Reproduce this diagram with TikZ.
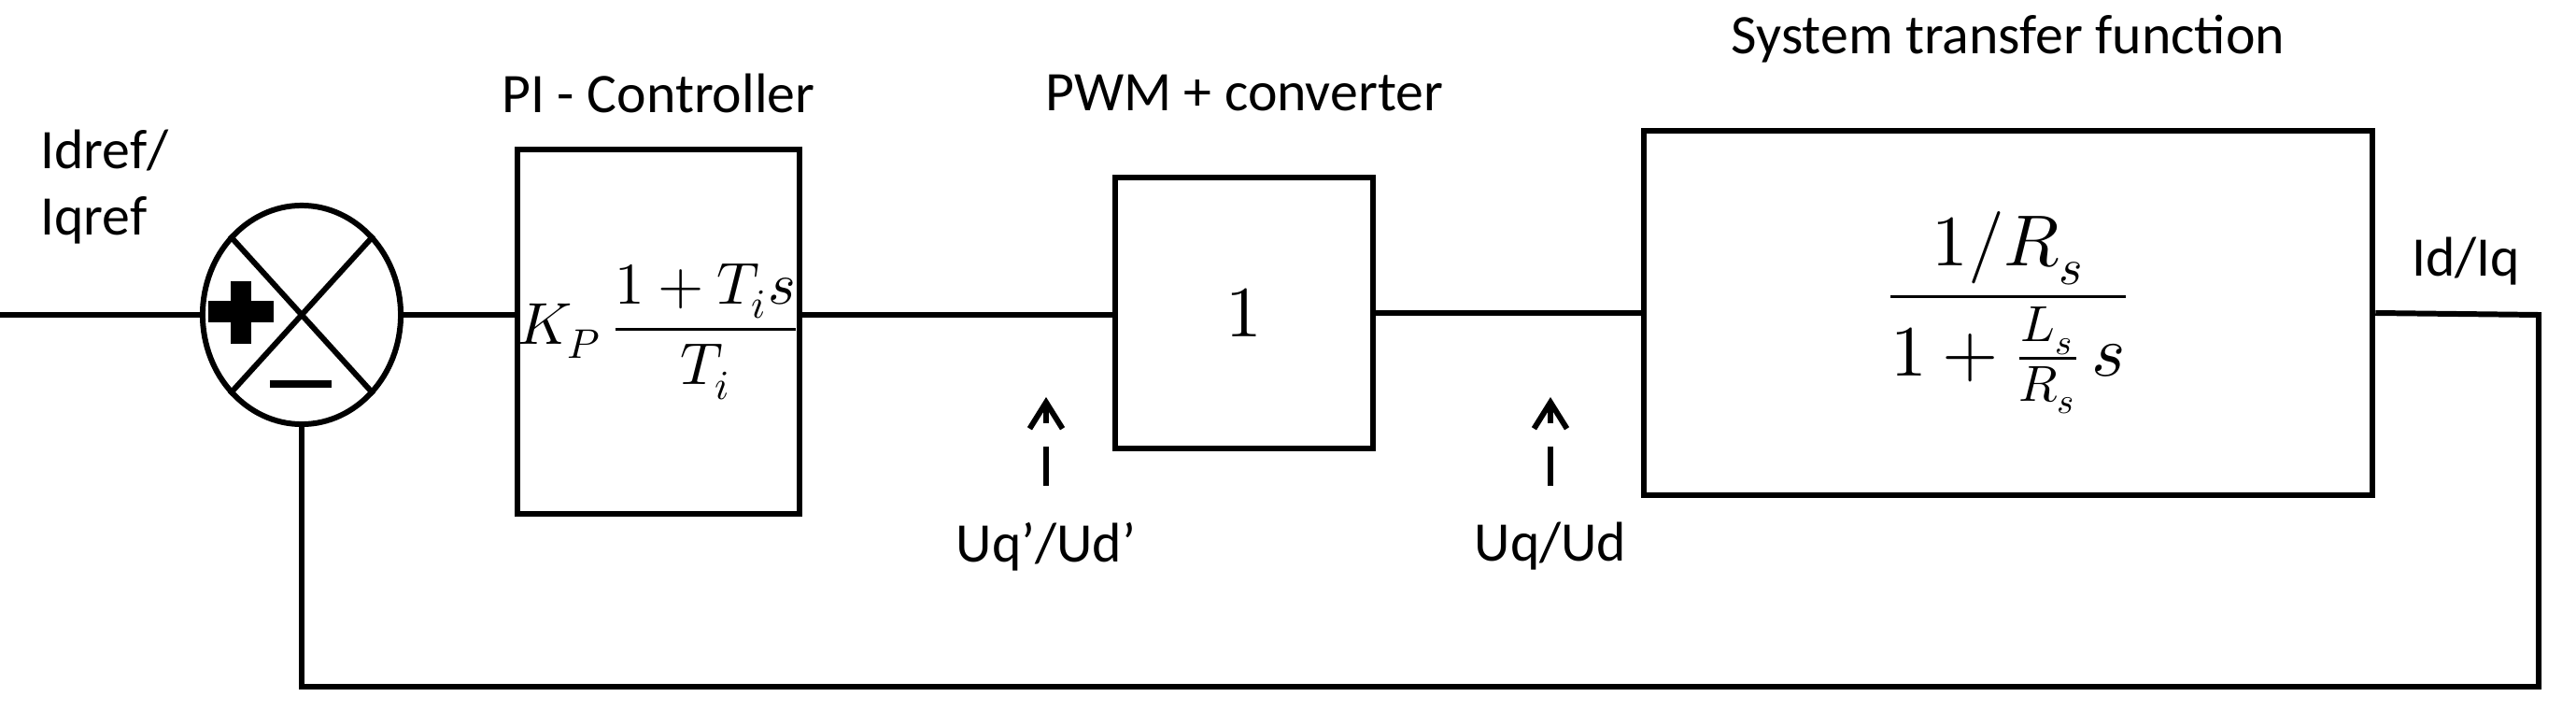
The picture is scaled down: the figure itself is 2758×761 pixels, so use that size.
\documentclass[tikz,border=0pt]{standalone}
\usepackage{fontspec}
\setmainfont{Carlito}
\usepackage{unicode-math}
\setmathfont{Latin Modern Math}
\usetikzlibrary{shapes.geometric,arrows.meta}
\begin{document}
\begin{tikzpicture}[x=0.01cm,y=-0.01cm,line width=1.7pt]
\tikzset{
	block/.style = {
		draw, rectangle, inner sep=0pt,
		font=\fontsize{22}{26}\selectfont
	},
	lbl/.style = {
		font=\fontsize{17}{20}\selectfont, inner sep=0pt
	},
	meas/.style = {
		dash pattern=on 12pt off 7pt, -{Straight Barb[length=8pt,width=10pt]}
	},
}
\useasboundingbox (0,0) rectangle (2758,761);

% summing junction
\node [draw, ellipse, minimum width=2.12cm, minimum height=2.34cm, inner sep=0pt] (sum) at (323,337) {};
\draw (sum.center) -- (sum.north west) (sum.center) -- (sum.north east)
      (sum.center) -- (sum.south west) (sum.center) -- (sum.south east);
\fill (223,322) rectangle (293,345);
\fill (247,301) rectangle (269,368);
\fill (289,407) rectangle (355,415);

% blocks
\node [block, minimum width=2.9cm, minimum height=3.9cm, font=\fontsize{18}{22}\selectfont] (pi) at (705,355) {$K_P\,\dfrac{1+T_i s}{T_i}$};
\node [block, minimum width=2.75cm, minimum height=2.9cm] (pwm) at (1332,335) {$1$};
\node [block, minimum width=7.8cm, minimum height=3.9cm] (sys) at (2150,335)
  {$\dfrac{1/R_s}{1+\frac{L_s}{R_s}\,s}$};

% labels
\node [lbl] (tpi)  at (705,100) {PI - Controller};
\node [lbl] (tpwm) at (1332,100) {PWM + converter};
\node [lbl] (tsys) at (2150,42) {System transfer function};
\node [lbl, align=left] (tin) at (112,200) {Idref/\\Iqref};
\node [lbl] (tout) at (2640,280) {Id/Iq};
\node [lbl] (tu1) at (1120,585) {Uq’/Ud’};
\node [lbl] (tu2) at (1660,585) {Uq/Ud};

\coordinate (in) at (0,337);
\coordinate (out) at (2718,337);
\coordinate (fb) at (2718,735);
\coordinate (m1) at (1120,520);
\coordinate (m2) at (1660,520);
\coordinate (m1t) at (1120,425);
\coordinate (m2t) at (1660,425);

% connections
\draw (in) -- (sum.west);
\draw (sum.east) -- (pi.west |- sum.east);
\draw (pi.east |- sum.east) -- (pwm.west |- sum.east);
\draw (pwm.east) -- (sys.west);
\draw (sys.east) -- (out) -- (fb) -| (sum.south);
\draw [meas] (m1) -- (m1t);
\draw [meas] (m2) -- (m2t);
\end{tikzpicture}
\end{document}
